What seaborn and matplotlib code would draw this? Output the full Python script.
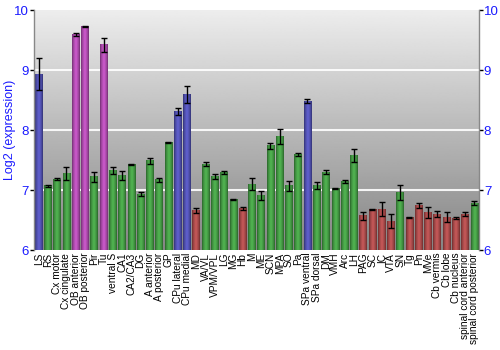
import numpy as np
import pandas as pd
import matplotlib
matplotlib.use("Agg")
import matplotlib.pyplot as plt
import seaborn as sns
from matplotlib.colors import to_rgb

regions = ["LS", "RS", "Cx motor", "Cx cingulate", "OB anterior", "OB posterior", "Pir", "Tu",
           "ventral S", "CA1", "CA2/CA3", "DG", "A anterior", "A posterior", "GP", "CPu lateral",
           "CPu medial", "MD", "VA/VL", "VPM/VPL", "LG", "MG", "Hb", "M", "ME", "SCN", "MPA", "SO",
           "Pa", "SPa ventral", "SPa dorsal", "DM", "VMH", "Arc", "LH", "PAG", "SC", "IC", "VTA",
           "SN", "Tg", "Pn", "MVe", "Cb vermis", "Cb lobe", "Cb nucleus", "spinal cord anterior",
           "spinal cord posterior"]
values = [8.93, 7.07, 7.18, 7.27, 9.59, 9.73, 7.22, 9.42,
          7.32, 7.24, 7.42, 6.93, 7.49, 7.17, 7.79, 8.31,
          8.59, 6.66, 7.43, 7.22, 7.29, 6.84, 6.69, 7.10, 6.91, 7.74, 7.89, 7.07,
          7.59, 8.48, 7.07, 7.30, 7.03, 7.14, 7.58, 6.57, 6.68, 6.68, 6.48,
          6.96, 6.54, 6.74, 6.63, 6.60, 6.55, 6.53, 6.60, 6.78]
errors = [0.27, 0.02, 0.02, 0.11, 0.02, 0.01, 0.08, 0.12,
          0.06, 0.08, 0.01, 0.03, 0.05, 0.03, 0.01, 0.06,
          0.14, 0.04, 0.03, 0.04, 0.02, 0.01, 0.03, 0.10, 0.07, 0.05, 0.12, 0.08,
          0.02, 0.03, 0.06, 0.03, 0.01, 0.03, 0.11, 0.07, 0.01, 0.12, 0.12,
          0.12, 0.01, 0.04, 0.09, 0.05, 0.08, 0.02, 0.03, 0.03]
groups = ["b", "g", "g", "g", "m", "m", "g", "m",
          "g", "g", "g", "g", "g", "g", "g", "b",
          "b", "r", "g", "g", "g", "g", "r", "g", "g", "g", "g", "g",
          "g", "b", "g", "g", "g", "g", "g", "r", "r", "r", "r",
          "g", "r", "r", "r", "r", "r", "r", "r", "g"]
palette = {"b": "#3a3ab8", "g": "#2fa02f", "m": "#b634b6", "r": "#b03434"}

df = pd.DataFrame({"region": regions, "value": values, "err": errors, "group": groups})

sns.set_style("white")
plt.rcParams["font.family"] = ["Liberation Sans", "DejaVu Sans"]
fig = plt.figure(figsize=(5, 3.5), dpi=100)
ax = fig.add_axes([0.068, 0.2857, 0.89, 0.6857])

# background gradient
bg = np.linspace(0.93, 0.52, 256).reshape(-1, 1)
ax.imshow(bg, cmap="gray", vmin=0, vmax=1, extent=(0, 1, 0, 1), transform=ax.transAxes,
          aspect="auto", zorder=0)

for yv in [7, 8, 9]:
    ax.axhline(yv, color="white", lw=1.5, zorder=1, alpha=0.9)

sns.barplot(data=df, x="region", y="value", hue="group", palette=palette, dodge=False,
            legend=False, width=0.82, ax=ax, zorder=2, linewidth=0)

ax.set_xlim(-0.5, len(values) - 0.5)
ax.set_ylim(6, 10)
ymin = ax.get_ylim()[0]

# horizontal shading on bars
t = np.linspace(-1, 1, 64)
shade = 1 - np.abs(t)
for p in list(ax.patches):
    h = p.get_height()
    if h is None or h == 0:
        continue
    c = np.array(to_rgb(p.get_facecolor()))
    img = np.zeros((1, 64, 3))
    dark = c * 0.62
    light = np.clip(c * 1.18 + 0.04, 0, 1)
    for k in range(3):
        img[0, :, k] = dark[k] + (light[k] - dark[k]) * shade ** 0.6
    x0 = p.get_x(); w = p.get_width(); top = p.get_y() + h
    ax.imshow(img, extent=(x0, x0 + w, ymin, top), aspect="auto", zorder=2.5)

ax.errorbar(np.arange(len(values)), values, yerr=errors, fmt="none", ecolor="black",
            elinewidth=1.0, capsize=2.2, capthick=1.0, zorder=4)

ax.set_xlim(-0.5, len(values) - 0.5)
ax.set_ylim(6, 10)
ax.set_yticks([6, 7, 8, 9, 10])
ax.set_xlabel("")
ax.set_ylabel("Log2 (expression)", color="#1a1aff", fontsize=9)
ax.yaxis.set_label_coords(-0.041, 0.5)
ax.tick_params(axis="y", labelcolor="#1a1aff", color="black", labelsize=9.5, length=3, width=1,
               direction="out", left=True, right=True, labelleft=True, labelright=True, pad=0.5)
ax.tick_params(axis="x", labelsize=7.3, rotation=90, length=0, pad=2, labelcolor="black")
for s in ["top", "bottom"]:
    ax.spines[s].set_visible(False)
for s in ["left", "right"]:
    ax.spines[s].set_color("#888888")
    ax.spines[s].set_linewidth(1)

fig.savefig("out.png", dpi=100)
